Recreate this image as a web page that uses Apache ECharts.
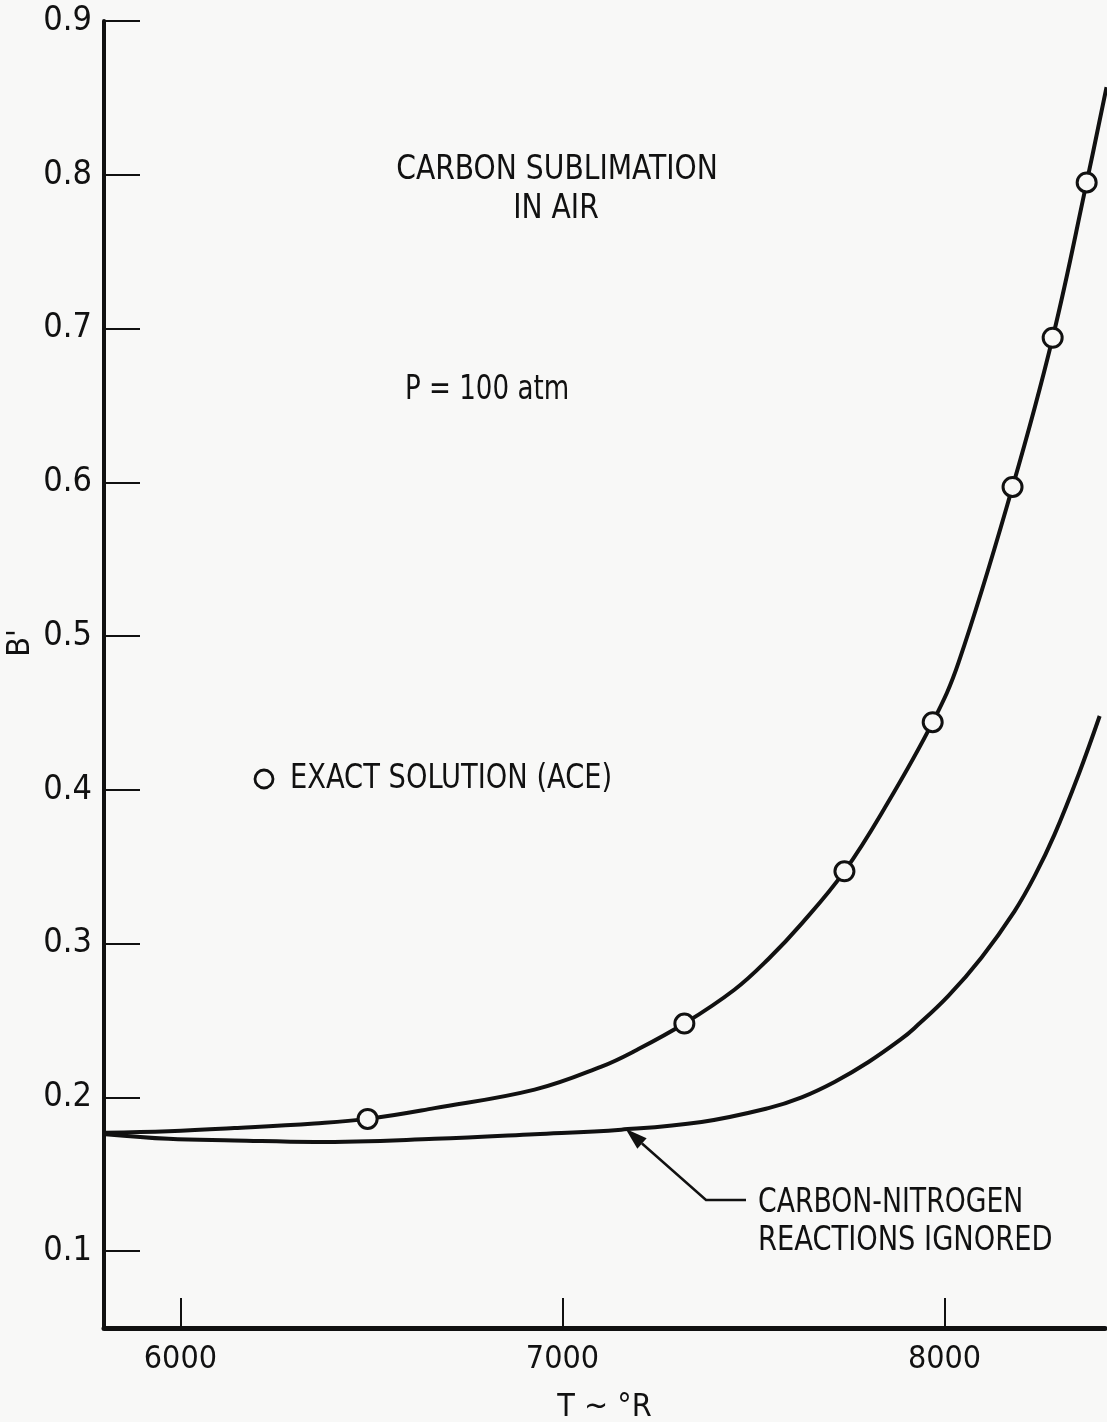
<!DOCTYPE html>
<html>
<head>
<meta charset="utf-8">
<script src="https://cdn.jsdelivr.net/npm/echarts@6/dist/echarts.min.js"></script>
<style>
html,body{margin:0;padding:0;background:#f8f8f7;}
#chart{width:1107px;height:1422px;}
</style>
</head>
<body>
<div id="chart"></div>
<script>
// ---- data ----
const xTicks = [6000, 7000, 8000];
const yTicks = [0.1, 0.2, 0.3, 0.4, 0.5, 0.6, 0.7, 0.8, 0.9];

// Exact solution (ACE) curve, T (°R) and B'
const upperT = [5804, 5969, 6141, 6351, 6490, 6665, 6927, 7102, 7188, 7319, 7450, 7539, 7626, 7738, 7843, 7969, 8037, 8178, 8283, 8372, 8424];
const upperB = [0.177, 0.178, 0.180, 0.183, 0.186, 0.193, 0.205, 0.220, 0.230, 0.248, 0.270, 0.290, 0.313, 0.347, 0.388, 0.444, 0.483, 0.597, 0.694, 0.795, 0.857];

// Carbon-nitrogen reactions ignored curve
const lowerT = [5804, 5969, 6141, 6351, 6665, 6927, 7154, 7364, 7539, 7626, 7712, 7801, 7887, 7921, 8010, 8097, 8183, 8236, 8288, 8351, 8406];
const lowerB = [0.176, 0.173, 0.172, 0.171, 0.173, 0.176, 0.179, 0.184, 0.193, 0.200, 0.210, 0.223, 0.238, 0.245, 0.266, 0.291, 0.321, 0.344, 0.371, 0.410, 0.448];

// Exact solution points (ACE)
const aceT = [6490, 7319, 7738, 7969, 8178, 8283, 8372];
const aceB = [0.186, 0.248, 0.347, 0.444, 0.597, 0.694, 0.795];

const titleLines = ['CARBON SUBLIMATION', 'IN AIR'];
const pressureText = 'P = 100 atm';
const legendText = 'EXACT SOLUTION (ACE)';
const noteLines = ['CARBON-NITROGEN', 'REACTIONS IGNORED'];
const yName = "B'";
const xName = 'T ~ °R';
const arrowTip = [7165, 0.1795];

const FONT = "'Liberation Sans Narrow','DejaVu Sans Condensed','Arial Narrow',sans-serif";
const INK = '#111';

const zip = (a, b) => a.map((v, i) => [v, b[i]]);

const chart = echarts.init(document.getElementById('chart'));
chart.setOption({
  backgroundColor: '#f8f8f7',
  animation: false,
  grid: {left: 104, right: 2, top: 21, bottom: 94, containLabel: false, outerBoundsMode: 'none'},
  xAxis: {
    type: 'value', min: 5800, max: 8420,
    name: xName, nameLocation: 'middle', nameGap: 64,
    nameTextStyle: {fontFamily: FONT, fontSize: 32, color: INK},
    axisLine: {show: true, lineStyle: {color: INK, width: 5}},
    axisTick: {show: true, inside: true, length: 30, customValues: xTicks, lineStyle: {color: INK, width: 2}},
    axisLabel: {customValues: xTicks, fontFamily: FONT, fontSize: 32, color: INK, margin: 16,
      formatter: v => String(v)},
    splitLine: {show: false}
  },
  yAxis: {
    type: 'value', min: 0.05, max: 0.9,
    axisLine: {show: true, lineStyle: {color: INK, width: 4}},
    axisTick: {show: true, inside: true, length: 36, customValues: yTicks, lineStyle: {color: INK, width: 2}},
    axisLabel: {customValues: yTicks, fontFamily: FONT, fontSize: 34, color: INK, margin: 12,
      formatter: v => v.toFixed(1)},
    splitLine: {show: false}
  },
  series: [
    {type: 'line', data: zip(upperT, upperB), smooth: 0.4, showSymbol: false,
      lineStyle: {color: INK, width: 4}, z: 2},
    {type: 'line', data: zip(lowerT, lowerB), smooth: 0.4, showSymbol: false,
      lineStyle: {color: INK, width: 4}, z: 2},
    {type: 'scatter', data: zip(aceT, aceB), symbol: 'circle', symbolSize: 19,
      itemStyle: {color: '#f8f8f7', borderColor: INK, borderWidth: 3, opacity: 1}, z: 5}
  ]
});

const tip = chart.convertToPixel({gridIndex: 0}, arrowTip);
const elbow = [706, 1200];
const dx = tip[0] - elbow[0], dy = tip[1] - elbow[1];
const len = Math.hypot(dx, dy), ux = dx / len, uy = dy / len;
const hl = 22, hw = 7;
const bx = tip[0] - ux * hl, by = tip[1] - uy * hl;

const txt = (x, y, s, align, sx) => ({
  type: 'text', x: x, y: y, scaleX: sx || 0.91,
  style: {text: s, fontFamily: FONT, fontSize: 33, fill: INK, align: align || 'left', verticalAlign: 'middle'}
});

chart.setOption({
  graphic: [
    {type: 'text', x: 21, y: 643, rotation: Math.PI / 2,
      style: {text: yName, fontFamily: FONT, fontSize: 32, fill: INK, align: 'center', verticalAlign: 'middle'}},
    txt(557, 170, titleLines[0], 'center', 0.95),
    txt(556, 209, titleLines[1], 'center', 0.95),
    txt(405, 390, pressureText, 'left', 0.88),
    {type: 'circle', shape: {cx: 264, cy: 779, r: 9}, style: {fill: 'none', stroke: INK, lineWidth: 2.8}},
    txt(290, 779, legendText, 'left', 0.92),
    txt(758, 1203, noteLines[0], 'left', 0.9),
    txt(758, 1241, noteLines[1], 'left', 0.92),
    {type: 'polyline', shape: {points: [[bx, by], elbow, [746, 1200]]},
      style: {stroke: INK, lineWidth: 2.5, fill: 'none'}},
    {type: 'polygon', shape: {points: [tip, [bx - uy * hw, by + ux * hw], [bx + uy * hw, by - ux * hw]]},
      style: {fill: INK}}
  ]
});
</script>
</body>
</html>
